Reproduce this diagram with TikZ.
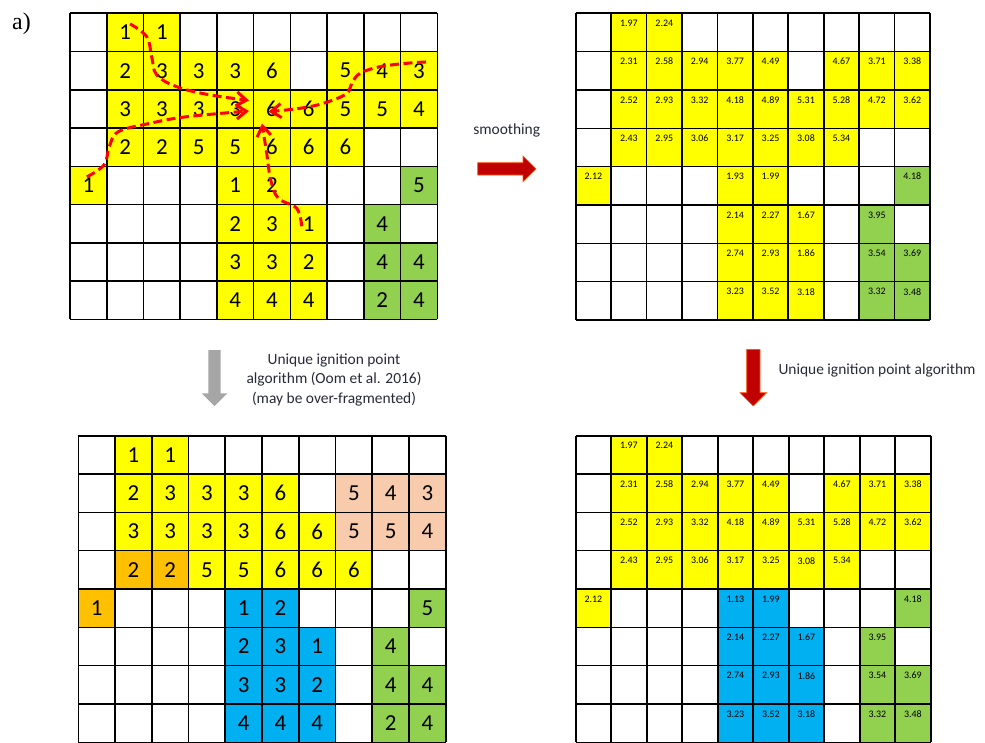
\documentclass[tikz,border=0pt]{standalone}
\usepackage{fontspec}
\setmainfont{Carlito}
\newfontfamily\panelfont{Liberation Serif}
\usetikzlibrary{arrows.meta}

\definecolor{burnyellow}{RGB}{255,255,0}
\definecolor{burngreen}{RGB}{146,208,80}
\definecolor{burnblue}{RGB}{0,176,240}
\definecolor{burnorange}{RGB}{255,192,0}
\definecolor{burnpeach}{RGB}{248,203,173}
\definecolor{arrowred}{RGB}{192,0,0}
\definecolor{arrowgray}{RGB}{166,166,166}
\definecolor{labelink}{RGB}{40,40,56}

% burned-day values (left panels)
\newcommand\burnvals{1/2/1,1/3/1,
  2/2/2,2/3/3,2/4/3,2/5/3,2/6/6,2/8/5,2/9/4,2/10/3,
  3/2/3,3/3/3,3/4/3,3/5/3,3/6/6,3/7/6,3/8/5,3/9/5,3/10/4,
  4/2/2,4/3/2,4/4/5,4/5/5,4/6/6,4/7/6,4/8/6,
  5/1/1,5/5/1,5/6/2,5/10/5,
  6/5/2,6/6/3,6/7/1,6/9/4,
  7/5/3,7/6/3,7/7/2,7/9/4,7/10/4,
  8/5/4,8/6/4,8/7/4,8/9/2,8/10/4}
% smoothed values (right panels), cell 5/5 apart
\newcommand\smoothvals{1/2/1.97,1/3/2.24,
  2/2/2.31,2/3/2.58,2/4/2.94,2/5/3.77,2/6/4.49,2/8/4.67,2/9/3.71,2/10/3.38,
  3/2/2.52,3/3/2.93,3/4/3.32,3/5/4.18,3/6/4.89,3/7/5.31,3/8/5.28,3/9/4.72,3/10/3.62,
  4/2/2.43,4/3/2.95,4/4/3.06,4/5/3.17,4/6/3.25,4/7/3.08,4/8/5.34,
  5/1/2.12,5/6/1.99,5/10/4.18,
  6/5/2.14,6/6/2.27,6/7/1.67,6/9/3.95,
  7/5/2.74,7/6/2.93,7/7/1.86,7/9/3.54,7/10/3.69,
  8/5/3.23,8/6/3.52,8/7/3.18,8/9/3.32,8/10/3.48}
% colour runs: row/first/last/colour
\newcommand\burnruns{1/2/3/burnyellow,2/2/6/burnyellow,2/8/10/burnyellow,
  3/2/10/burnyellow,4/2/8/burnyellow,5/1/1/burnyellow,5/5/6/burnyellow,
  6/5/7/burnyellow,7/5/7/burnyellow,8/5/7/burnyellow,
  5/10/10/burngreen,6/9/9/burngreen,7/9/10/burngreen,8/9/10/burngreen}
\newcommand\patchruns{1/2/3/burnyellow,2/2/6/burnyellow,3/2/7/burnyellow,4/4/8/burnyellow,
  2/8/10/burnpeach,3/8/10/burnpeach,4/2/3/burnorange,5/1/1/burnorange,
  5/5/6/burnblue,6/5/7/burnblue,7/5/7/burnblue,8/5/7/burnblue,
  5/10/10/burngreen,6/9/9/burngreen,7/9/10/burngreen,8/9/10/burngreen}
\newcommand\smoothruns{1/2/3/burnyellow,2/2/6/burnyellow,2/8/10/burnyellow,
  3/2/10/burnyellow,4/2/8/burnyellow,5/1/1/burnyellow,
  5/5/6/burnblue,6/5/7/burnblue,7/5/7/burnblue,8/5/7/burnblue,
  5/10/10/burngreen,6/9/9/burngreen,7/9/10/burngreen,8/9/10/burngreen}

\begin{document}
\begin{tikzpicture}[x=1bp,y=-1bp,
  gridline/.style={line width=1.6bp,black},
  bigval/.style={font=\fontsize{23}{25}\selectfont,inner sep=1bp},
  smallval/.style={font=\fontsize{10}{12}\selectfont,inner sep=1bp},
  steplabel/.style={font=\fontsize{15.5}{19.5}\selectfont,text=labelink,inner sep=0pt},
  fireline/.style={red,line width=3bp,dash pattern=on 9bp off 4.5bp,
    -{Straight Barb[length=10bp,width=14bp]}}]
  \useasboundingbox (0,0) rectangle (985,743);
  \node[font=\panelfont\fontsize{24}{26}\selectfont,inner sep=0pt] (panel) at (21.5,24.2) {a)};

  % top left: burned day
  \begin{scope}[shift={(70,13.3)},x=36.73bp,y=-38.25bp]
    \foreach \r/\a/\b/\col in \burnruns \fill[\col] (\a-1,\r-1) rectangle (\b,\r);
    \foreach \c in {0,...,10} \draw[gridline] (\c,0) -- (\c,8);
    \foreach \r in {0,...,8} \draw[gridline] (0,\r) -- (10,\r);
    \foreach \r/\c/\v in \burnvals \node[bigval] (tl-\r-\c) at (\c-0.5,\r-0.5) {\v};
  \end{scope}

  % top right: smoothed
  \begin{scope}[shift={(575.7,13.3)},x=35.43bp,y=-38.34bp]
    \foreach \r/\a/\b/\col in \burnruns \fill[\col] (\a-1,\r-1) rectangle (\b,\r);
    \foreach \c in {0,...,10} \draw[gridline] (\c,0) -- (\c,8);
    \foreach \r in {0,...,8} \draw[gridline] (0,\r) -- (10,\r);
    \foreach \r/\c/\v in \smoothvals \node[smallval] (tr-\r-\c) at (\c-0.5,\r-0.74) {\v};
    \node[smallval] (tr-5-5) at (4.5,4.26) {1.93};
  \end{scope}

  % bottom left: patches of the original algorithm
  \begin{scope}[shift={(78.3,435.7)},x=36.74bp,y=-38.33bp]
    \foreach \r/\a/\b/\col in \patchruns \fill[\col] (\a-1,\r-1) rectangle (\b,\r);
    \foreach \c in {0,...,10} \draw[gridline] (\c,0) -- (\c,8);
    \foreach \r in {0,...,8} \draw[gridline] (0,\r) -- (10,\r);
    \foreach \r/\c/\v in \burnvals \node[bigval] (bl-\r-\c) at (\c-0.5,\r-0.5) {\v};
  \end{scope}

  % bottom right: patches after smoothing
  \begin{scope}[shift={(575.7,435.7)},x=35.5bp,y=-38.33bp]
    \foreach \r/\a/\b/\col in \smoothruns \fill[\col] (\a-1,\r-1) rectangle (\b,\r);
    \foreach \c in {0,...,10} \draw[gridline] (\c,0) -- (\c,8);
    \foreach \r in {0,...,8} \draw[gridline] (0,\r) -- (10,\r);
    \foreach \r/\c/\v in \smoothvals \node[smallval] (br-\r-\c) at (\c-0.5,\r-0.74) {\v};
    \node[smallval] (br-5-5) at (4.5,4.26) {1.13};
  \end{scope}

  % spread paths towards the ignition cell
  \coordinate (tipA) at (249,100.5);
  \coordinate (tipB) at (249,111);
  \coordinate (tipC) at (268.5,111.7);
  \coordinate (tipD) at (262,123.5);
  \draw[fireline] plot[smooth,tension=0.6] coordinates {(tl-1-2.60) (146.7,36.7) (151.7,56.7)
    (156.7,75) (176.7,86.7) (206.7,94.3) (tipA)};
  \draw[fireline] plot[smooth,tension=0.6] coordinates {(tl-5-1.100) (104,165) (109.3,146.7)
    (118.3,131.7) (150,123.3) (186.7,116.7) (tipB)};
  \draw[fireline] plot[smooth,tension=0.6] coordinates {(tl-2-10.north east) (406.7,63.3)
    (380,66.7) (360,73.3) (351.7,83.3) (346,94) (323.3,103.3) (300,108.3) (tipC)};
  \draw[fireline] plot[smooth,tension=0.6] coordinates {(tl-6-7.200) (296.7,208.3)
    (278.3,198.3) (270.7,180) (266.7,153.3) (tipD)};

  % step arrows
  \filldraw[arrowred,draw=orange!70!red,line width=0.6bp] (477.7,162.7) -- (523,162.7) -- (523,156)
    -- (536,168.8) -- (523,181.7) -- (523,175) -- (477.7,175) -- cycle;
  \node[steplabel] (smoothlbl) at (506.7,130.7) {smoothing};
  \fill[arrowgray] (208.3,350) -- (220.7,350) -- (220.7,393.3) -- (227.3,393.3)
    -- (214.5,406) -- (201.7,393.3) -- (208.3,393.3) -- cycle;
  \node[steplabel,align=center] (oomlbl) at (334,380)
    {Unique ignition point\\algorithm (Oom et al. 2016)\\[1bp](may be over-fragmented)};
  \filldraw[arrowred,draw=orange!70!red,line width=0.6bp] (746.7,349.3) -- (760,349.3) -- (760,392.7)
    -- (766.7,392.7) -- (753.3,406) -- (740,392.7) -- (746.7,392.7) -- cycle;
  \node[steplabel,anchor=west] (uniqlbl) at (778.3,370.7) {Unique ignition point algorithm};
\end{tikzpicture}
\end{document}
